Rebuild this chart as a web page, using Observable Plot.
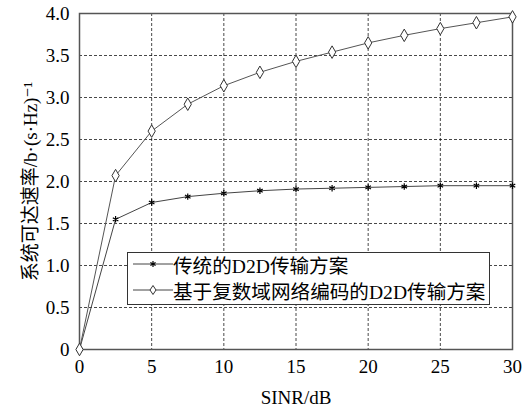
<!DOCTYPE html>
<html><head><meta charset="utf-8">
<script src="https://cdn.jsdelivr.net/npm/d3@7"></script>
<script src="https://cdn.jsdelivr.net/npm/@observablehq/plot@0.6"></script>
<style>
body{margin:0;background:#fff;}
#wrap{position:relative;width:529px;height:408px;font-family:'Liberation Serif','Times New Roman','DejaVu Serif','Noto Sans CJK SC',serif;}
#wrap svg, #wrap svg text{font-family:'Liberation Serif','Times New Roman','DejaVu Serif','Noto Sans CJK SC',serif !important;}
#legend{position:absolute;left:127px;top:252px;width:361px;height:51px;border:1.5px solid #333;background:#fff;font-size:19.6px;color:#000;}
.row{position:absolute;left:5px;height:26px;display:flex;align-items:center;white-space:nowrap;}
</style></head><body><div id="wrap"></div>
<script>
const sinr = [0, 2.5, 5, 7.5, 10, 12.5, 15, 17.5, 20, 22.5, 25, 27.5, 30];
const traditional = [0, 1.55, 1.75, 1.82, 1.86, 1.89, 1.91, 1.92, 1.93, 1.94, 1.95, 1.95, 1.95];
const proposed = [0, 2.07, 2.6, 2.92, 3.14, 3.3, 3.43, 3.54, 3.65, 3.74, 3.82, 3.89, 3.96];
const seriesNames = ["传统的D2D传输方案", "基于复数域网络编码的D2D传输方案"];
const xTicks = [0, 5, 10, 15, 20, 25, 30];
const yTicks = [0, 0.5, 1, 1.5, 2, 2.5, 3, 3.5, 4];
const xLabel = "SINR/dB";
const yLabel = "系统可达速率/b·(s·Hz)⁻¹";

const rows1 = sinr.map((x, i) => ({x, y: traditional[i], s: seriesNames[0]}));
const rows2 = sinr.map((x, i) => ({x, y: proposed[i], s: seriesNames[1]}));
const yFmt = d => d === 0 ? "0" : d.toFixed(1);

const chart = Plot.plot({
  width: 529, height: 408,
  marginLeft: 79, marginRight: 17, marginTop: 13, marginBottom: 59,
  style: {fontSize: "19px", background: "#fff", color: "#000"},
  x: {domain: [0, 30]},
  y: {domain: [0, 4]},
  marks: [
    Plot.gridX(xTicks, {stroke: "#000", strokeOpacity: 0.9, strokeDasharray: "3,2", strokeWidth: 0.8}),
    Plot.gridY(yTicks, {stroke: "#000", strokeOpacity: 0.9, strokeDasharray: "3,2", strokeWidth: 0.8}),
    Plot.frame({stroke: "#555", strokeWidth: 1.5}),
    Plot.axisX({ticks: xTicks, tickSize: 0, tickPadding: 10, label: xLabel, labelAnchor: "center", labelArrow: "none", labelOffset: 54}),
    Plot.axisY({ticks: yTicks, tickSize: 0, tickPadding: 10, tickFormat: yFmt, label: yLabel, labelAnchor: "center", labelArrow: "none", labelOffset: 56}),
    Plot.line(rows1, {x: "x", y: "y", stroke: "#444", strokeWidth: 1}),
    Plot.line(rows2, {x: "x", y: "y", stroke: "#555", strokeWidth: 1}),
    Plot.dot(rows1, {x: "x", y: "y", symbol: "asterisk", r: 3, stroke: "#000", strokeWidth: 1.2}),
    Plot.dot(rows2, {x: "x", y: "y", symbol: "diamond", r: 3.8, stroke: "#333", fill: "#fff", strokeWidth: 1})
  ]
});
const wrap = document.getElementById("wrap");
wrap.appendChild(chart);

const legend = document.createElement("div");
legend.id = "legend";
const markerSvgs = [
  '<svg width="40" height="14"><line x1="0" y1="7" x2="40" y2="7" stroke="#444"/><g stroke="#000" stroke-width="1.2"><line x1="20" y1="4" x2="20" y2="10"/><line x1="17.4" y1="5.5" x2="22.6" y2="8.5"/><line x1="17.4" y1="8.5" x2="22.6" y2="5.5"/></g></svg>',
  '<svg width="40" height="14"><line x1="0" y1="7" x2="40" y2="7" stroke="#444"/><path d="M20,2.5L23,7L20,11.5L17,7Z" fill="#fff" stroke="#333"/></svg>'
];
seriesNames.forEach((name, i) => {
  const r = document.createElement("div");
  r.className = "row";
  r.style.top = (i === 0 ? -2 : 24) + "px";
  r.innerHTML = markerSvgs[i] + "<span>" + name + "</span>";
  legend.appendChild(r);
});
wrap.appendChild(legend);
</script></body></html>
